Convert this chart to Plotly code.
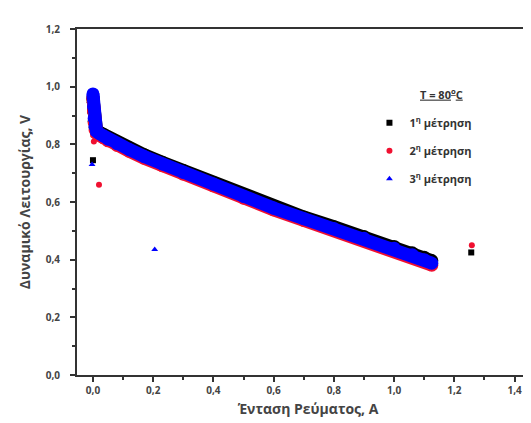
import plotly.graph_objects as go

# ---- data ----
band_I = [0.000, 0.001, 0.002, 0.004, 0.007, 0.012, 0.020, 0.035, 0.050, 0.080,
          0.120, 0.170, 0.230, 0.300, 0.400, 0.500, 0.600, 0.700, 0.800, 0.900,
          1.000, 1.060, 1.100, 1.125]
v_meas1 = [0.960, 0.945, 0.915, 0.880, 0.858, 0.849, 0.843, 0.834, 0.824, 0.808,
           0.788, 0.764, 0.738, 0.709, 0.668, 0.625, 0.585, 0.548, 0.514, 0.480,
           0.446, 0.424, 0.408, 0.397]
v_meas2 = [0.960, 0.945, 0.915, 0.875, 0.850, 0.838, 0.832, 0.822, 0.812, 0.796,
           0.776, 0.752, 0.726, 0.697, 0.656, 0.613, 0.573, 0.536, 0.502, 0.468,
           0.434, 0.410, 0.393, 0.381]
v_meas3 = [0.975, 0.960, 0.930, 0.890, 0.862, 0.845, 0.838, 0.828, 0.818, 0.802,
           0.782, 0.758, 0.732, 0.703, 0.662, 0.619, 0.579, 0.542, 0.508, 0.474,
           0.440, 0.417, 0.400, 0.388]

out_I1 = [0.000, 1.256]
out_V1 = [0.745, 0.425]
out_I2 = [0.020, 0.003, 1.258]
out_V2 = [0.660, 0.810, 0.450]
out_I3 = [-0.003, 0.205]
out_V3 = [0.730, 0.435]

names = ["1<sup>η</sup> μέτρηση", "2<sup>η</sup> μέτρηση", "3<sup>η</sup> μέτρηση"]
legend_title = "<b><u>T = 80<sup>o</sup>C</u></b>"
x_ticks = [0.0, 0.2, 0.4, 0.6, 0.8, 1.0, 1.2, 1.4]
y_ticks = [0.0, 0.2, 0.4, 0.6, 0.8, 1.0, 1.2]

colors = ["#000000", "#f01030", "#0000ff"]
symbols = ["square", "circle", "triangle-up"]

fig = go.Figure()
bands = [v_meas1, v_meas2, v_meas3]
for v, c in zip(bands, colors):
    fig.add_trace(go.Scatter(x=band_I, y=v, mode="lines+markers",
                             line=dict(color=c, width=13),
                             marker=dict(color=c, size=13, symbol="circle"),
                             showlegend=False, hoverinfo="skip"))

outs = [(out_I1, out_V1), (out_I2, out_V2), (out_I3, out_V3)]
for i, ((xi, yi), c, s, n) in enumerate(zip(outs, colors, symbols, names)):
    fig.add_trace(go.Scatter(x=xi, y=yi, mode="markers", name=n,
                             legendgroup=f"g{i}",
                             marker=dict(color=c, symbol=s, size=6)))

tfont = dict(family="Open Sans", size=10, color="#444444", weight="bold")
axis_common = dict(showline=True, linecolor="#333333", linewidth=2,
                   ticks="outside", ticklen=5, tickwidth=1.5, tickcolor="#333333",
                   showgrid=False, zeroline=False,
                   tickfont=tfont, tickformat=".1f")

fig.update_xaxes(range=[-0.053, 1.481], tickvals=x_ticks, mirror=True,
                 ticklabelstandoff=0,
                 minor=dict(ticks="outside", ticklen=3, tickwidth=1.5,
                            tickcolor="#333333", dtick=0.1, tick0=0),
                 title=dict(text="<b>Ένταση Ρεύματος, A</b>", standoff=8,
                            font=dict(family="Open Sans", size=14, color="#444444")),
                 **axis_common)
fig.update_yaxes(range=[0, 1.2], tickvals=y_ticks, mirror=False,
                 ticklabelstandoff=8,
                 minor=dict(ticks="outside", ticklen=3, tickwidth=1.5,
                            tickcolor="#333333", dtick=0.1, tick0=0),
                 title=dict(text="<b>Δυναμικό Λειτουργίας, V</b>", standoff=12,
                            font=dict(family="Open Sans", size=14, color="#444444")),
                 **axis_common)

fig.add_annotation(text=legend_title, xref="paper", yref="paper",
                   x=0.79, y=0.813, xanchor="center", yanchor="middle",
                   showarrow=False,
                   font=dict(family="Open Sans", size=11, color="#333333"))

fig.update_layout(
    width=531, height=423,
    margin=dict(l=69, r=0, t=21, b=56),
    plot_bgcolor="white", paper_bgcolor="white",
    separators=",.",
    showlegend=True,
    legend=dict(x=0.633, y=0.771, xanchor="left", yanchor="top",
                bgcolor="rgba(0,0,0,0)",
                font=dict(family="Open Sans", size=11, color="#333333", weight="bold"),
                tracegroupgap=9),
)

fig.write_html("out.html")
